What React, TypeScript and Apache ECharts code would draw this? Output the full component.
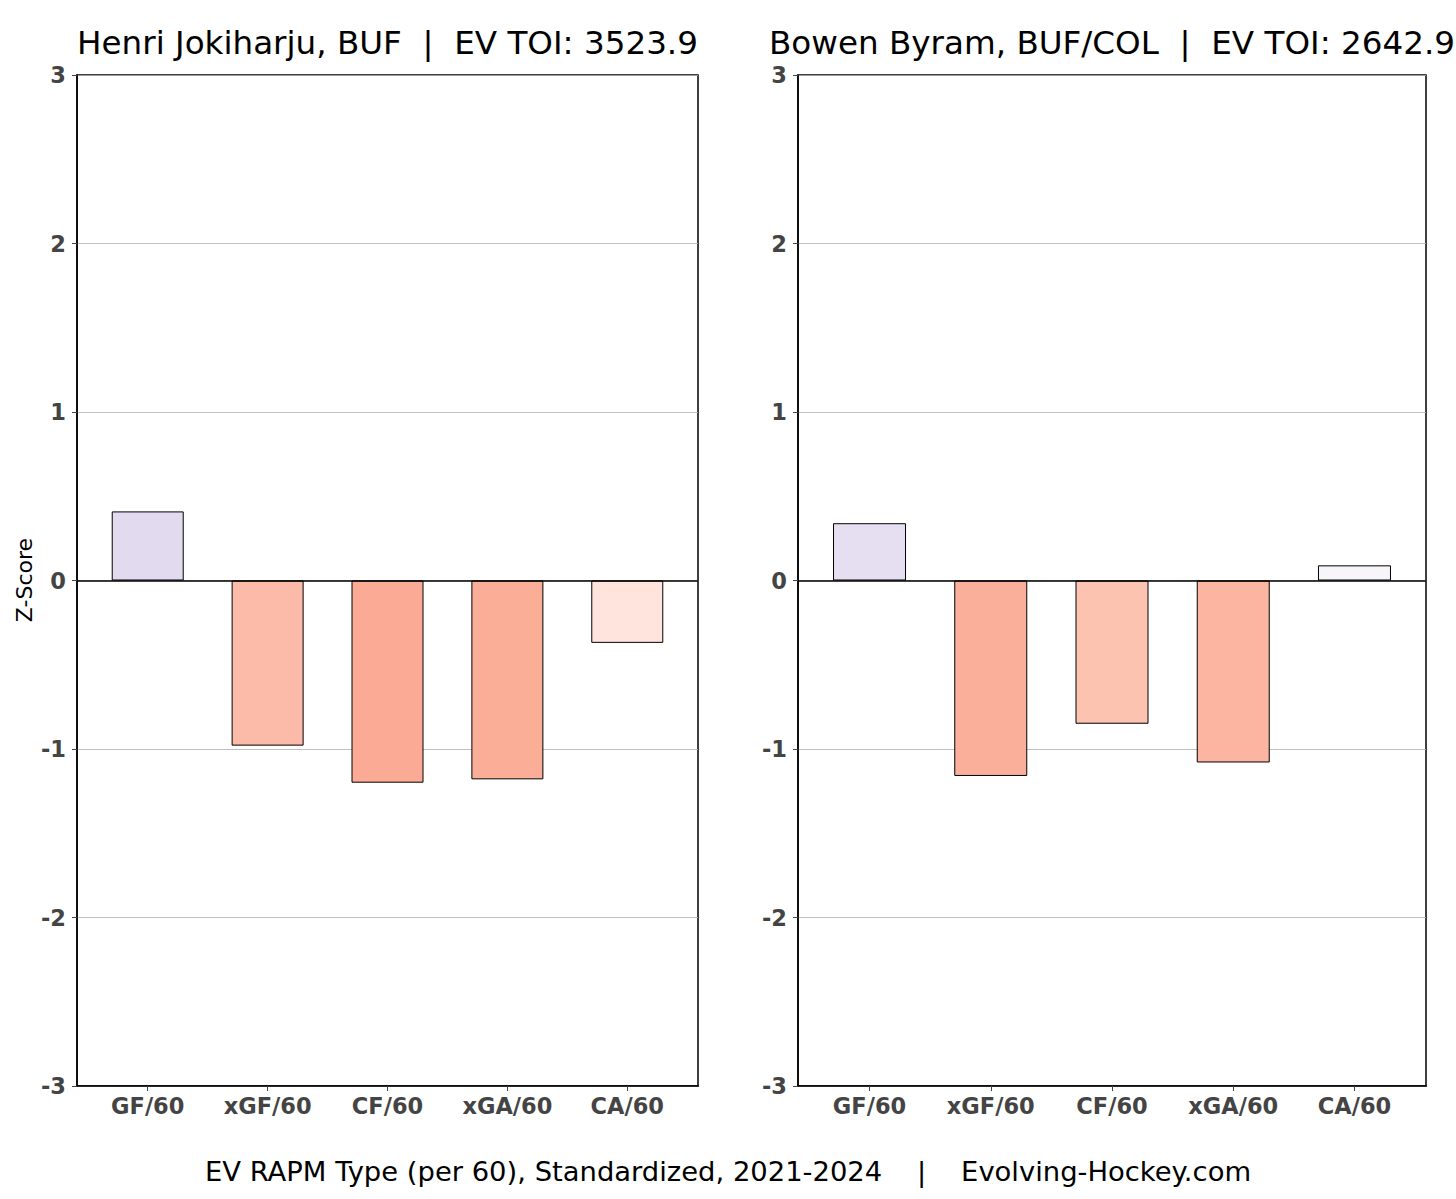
import React, { useEffect, useRef } from "react";
import * as echarts from "echarts";

const categories = ["GF/60", "xGF/60", "CF/60", "xGA/60", "CA/60"];
const jokiharjuValues = [0.41, -0.98, -1.2, -1.18, -0.37];
const byramValues = [0.34, -1.16, -0.85, -1.08, 0.09];
const jokiharjuColors = ["#e2daee", "#fcbaa8", "#fbab95", "#faad97", "#fee4dc"];
const byramColors = ["#e6dff1", "#faaf9b", "#fdc3b1", "#fcb5a0", "#f7f5fa"];
const leftTitle = "Henri Jokiharju, BUF  |  EV TOI: 3523.9";
const rightTitle = "Bowen Byram, BUF/COL  |  EV TOI: 2642.9";
const footer = "EV RAPM Type (per 60), Standardized, 2021-2024    |    Evolving-Hockey.com";
const yLabel = "Z-Score";
const categoryPositions = [0, 1, 2, 3, 4];

const FONT = "'DejaVu Sans', sans-serif";

export default function App() {
  const ref = useRef<HTMLDivElement>(null);
  useEffect(() => {
    document.body.style.margin = "0";
    const chart = echarts.init(ref.current!, null, { renderer: "svg" });
    const grids = [
      { left: 77, top: 75, width: 621, height: 1011 },
      { left: 798, top: 75, width: 628, height: 1011 },
    ];
    const makeX = (gi: number) => ({
      type: "value",
      gridIndex: gi,
      min: -0.59,
      max: 4.59,
      splitLine: { show: false },
      axisLine: { show: true, onZero: false, lineStyle: { color: "#000", width: 1.5 } },
      axisTick: { show: true, customValues: categoryPositions, length: 5, lineStyle: { color: "#444" } },
      axisLabel: {
        customValues: categoryPositions,
        formatter: (v: number) => categories[Math.round(v)] ?? "",
        color: "#444",
        fontWeight: "bold",
        fontSize: 22.5,
        fontFamily: FONT,
        margin: 8,
      },
    });
    const makeY = (gi: number) => ({
      type: "value",
      gridIndex: gi,
      min: -3,
      max: 3,
      interval: 1,
      splitLine: { show: true, lineStyle: { color: "#b0b0b0", width: 0.8 } },
      axisLine: { show: true, onZero: false, lineStyle: { color: "#000", width: 1.5 } },
      axisTick: { show: true, length: 5, lineStyle: { color: "#444" } },
      axisLabel: {
        color: "#444",
        fontWeight: "bold",
        fontSize: 22.5,
        fontFamily: FONT,
        margin: 11,
      },
    });
    const makeSeries = (gi: number, values: number[], colors: string[], bw: number) => ({
      type: "bar",
      xAxisIndex: gi,
      yAxisIndex: gi,
      barWidth: bw,
      data: values.map((v, i) => ({
        value: [categoryPositions[i], v],
        itemStyle: { color: colors[i], borderColor: "#000", borderWidth: 1 },
      })),
      markLine: {
        silent: true,
        symbol: ["none", "none"],
        label: { show: false },
        lineStyle: { color: "#000", width: 1.5, type: "solid" },
        data: [{ yAxis: 0 }],
      },
    });
    chart.setOption({
      animation: false,
      backgroundColor: "#fff",
      grid: grids.map((g) => ({ ...g, show: true, borderColor: "#000", borderWidth: 1.5, containLabel: false })),
      xAxis: [makeX(0), makeX(1)],
      yAxis: [makeY(0), makeY(1)],
      series: [
        makeSeries(0, jokiharjuValues, jokiharjuColors, 72),
        makeSeries(1, byramValues, byramColors, 73),
      ],
      graphic: [
        {
          type: "text",
          x: 77 + 621 / 2,
          y: 43,
          style: { text: leftTitle, fontSize: 32.6, fontFamily: FONT, fill: "#000", align: "center", verticalAlign: "middle" },
        },
        {
          type: "text",
          x: 798 + 628 / 2,
          y: 43,
          style: { text: rightTitle, fontSize: 32.6, fontFamily: FONT, fill: "#000", align: "center", verticalAlign: "middle" },
        },
        {
          type: "text",
          x: 728,
          y: 1171,
          style: { text: footer, fontSize: 27.4, fontFamily: FONT, fill: "#000", align: "center", verticalAlign: "middle" },
        },
        {
          type: "text",
          x: 24,
          y: 580,
          rotation: Math.PI / 2,
          style: { text: yLabel, fontSize: 22, fontFamily: FONT, fill: "#000", align: "center", verticalAlign: "middle" },
        },
      ],
    });
    return () => chart.dispose();
  }, []);
  return <div ref={ref} style={{ width: 1456, height: 1199 }} />;
}
